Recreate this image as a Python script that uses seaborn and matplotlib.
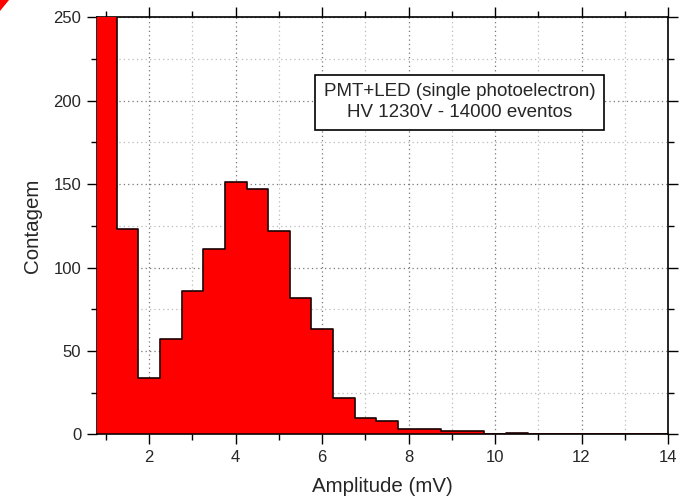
import numpy as np
import pandas as pd
import matplotlib
matplotlib.use("Agg")
import matplotlib.pyplot as plt
import seaborn as sns
from matplotlib.ticker import MultipleLocator
from matplotlib.patches import Polygon

# ---- data ----
amplitude_mv = [1.0, 1.5, 2.0, 2.5, 3.0, 3.5, 4.0, 4.5, 5.0, 5.5, 6.0, 6.5, 7.0,
                7.5, 8.0, 8.5, 9.0, 9.5, 10.0, 10.5, 11.0, 11.5, 12.0, 12.5,
                13.0, 13.5, 14.0]
contagem = [12973, 123, 34, 57, 86, 111, 151, 147, 122, 82, 63, 22, 10,
            8, 3, 3, 2, 2, 0, 1, 0, 0, 0, 0,
            0, 0, 0]
bin_width = 0.5
x_label = "Amplitude (mV)"
y_label = "Contagem"
box_text = "PMT+LED (single photoelectron)\nHV 1230V - 14000 eventos"

df = pd.DataFrame({"amp": amplitude_mv, "count": contagem})
edges = [a - bin_width / 2 for a in amplitude_mv] + [amplitude_mv[-1] + bin_width / 2]

sns.set_style("white")
plt.rcParams["font.family"] = ["Liberation Sans", "DejaVu Sans"]

fig = plt.figure(figsize=(6.83, 5.0), dpi=100)
ax = fig.add_axes([96.5 / 683, 1 - 434.3 / 500, (668 - 96.5) / 683, (434.3 - 17.3) / 500])

sns.histplot(data=df, x="amp", weights="count", bins=edges, ax=ax,
             element="step", fill=True,
             color="#ff0000", alpha=1.0, edgecolor="#1a0000", linewidth=1.2,
             zorder=3)
for coll in ax.collections:
    coll.set_facecolor("#ff0000")
    coll.set_alpha(1.0)

ax.set_xlim(0.78, 14)
ax.set_ylim(0, 250)

ax.xaxis.set_major_locator(MultipleLocator(2))
ax.xaxis.set_minor_locator(MultipleLocator(1))
ax.yaxis.set_major_locator(MultipleLocator(50))
ax.yaxis.set_minor_locator(MultipleLocator(25))

ax.grid(which="major", color="#777777", linestyle=(0, (1, 2.5)), linewidth=0.9, zorder=0)
ax.grid(which="minor", color="#bbbbbb", linestyle=(0, (1, 2.5)), linewidth=0.9, zorder=0)
ax.set_axisbelow(True)

ax.tick_params(which="both", direction="out", top=True, right=True,
               bottom=True, left=True, labeltop=False, labelright=False,
               color="black", width=1.0)
ax.tick_params(which="major", length=7, labelsize=12, pad=4)
ax.tick_params(which="minor", length=4)

for s in ax.spines.values():
    s.set_visible(True)
    s.set_color("black")
    s.set_linewidth(1.2)

ax.set_xlabel(x_label, fontsize=14.8, labelpad=9)
ax.set_ylabel(y_label, fontsize=14.8, labelpad=8)

ax.text(9.18, 199, box_text, ha="center", va="center", fontsize=13.5,
        linespacing=1.3, zorder=5,
        bbox=dict(boxstyle="square,pad=0.45", facecolor="white",
                  edgecolor="black", linewidth=1.2))

# small red corner mark at top-left of the figure
fig.patches.append(Polygon([[0, 1], [9 / 683, 1], [0, 1 - 11 / 500]],
                           closed=True, transform=fig.transFigure,
                           facecolor="#ff0000", edgecolor="none"))

fig.savefig("out.png", dpi=100)
